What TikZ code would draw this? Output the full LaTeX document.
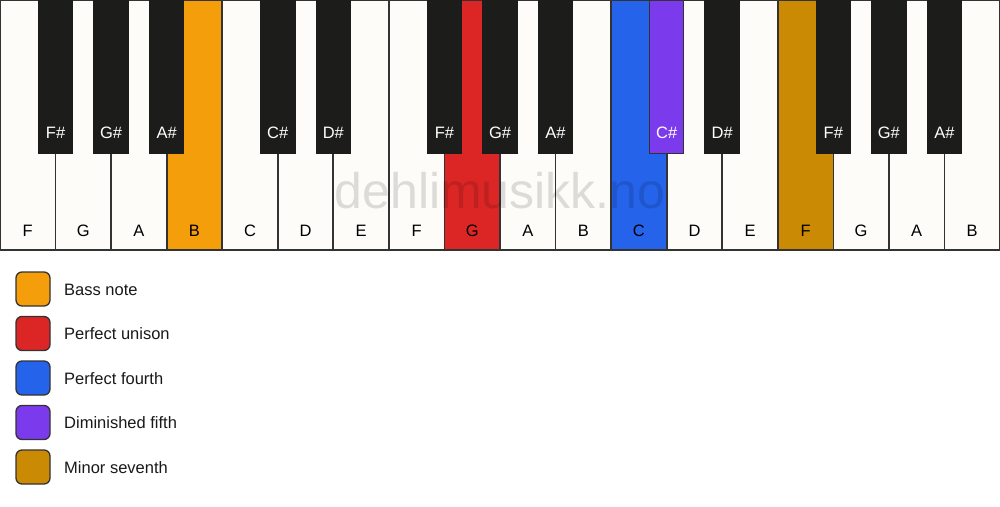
\documentclass[tikz,border=0pt]{standalone}
\usepackage{fontspec}
\setmainfont{Liberation Sans}
\definecolor{keywhite}{HTML}{FDFCF8}
\definecolor{keyblack}{HTML}{1C1C1A}
\definecolor{keyline}{HTML}{333333}
\definecolor{cbass}{HTML}{F59E0B}
\definecolor{cunison}{HTML}{DC2626}
\definecolor{cfourth}{HTML}{2563EB}
\definecolor{cdimfifth}{HTML}{7C3AED}
\definecolor{cminsev}{HTML}{CA8A04}
\begin{document}
\begin{tikzpicture}[x=1pt,y=-1pt,
  whitekey/.style={draw=keyline, line width=1.7pt, minimum width=55.556pt, minimum height=250pt, anchor=north west, inner sep=0pt, outer sep=0pt},
  blackkey/.style={draw=keyblack, line width=1pt, minimum width=34.5pt, minimum height=153pt, anchor=north, inner sep=0pt, outer sep=0pt},
  wlabel/.style={anchor=base, text=black, font=\fontsize{16.5}{19}\selectfont, inner sep=0pt},
  blabel/.style={anchor=base, text=white, font=\fontsize{16.5}{19}\selectfont, inner sep=0pt},
  swatch/.style={draw=keyline, line width=1.3pt, rounded corners=6pt, minimum width=34pt, minimum height=34pt, inner sep=0pt},
  legtext/.style={anchor=base west, text=black!90, font=\fontsize{16.5}{19}\selectfont, inner sep=0pt},
  watermark/.style={anchor=base, text=black, opacity=0.13, font=\fontsize{50}{60}\selectfont, inner sep=0pt}]
\useasboundingbox (0,0) rectangle (1000,506);
\fill[white] (0,0) rectangle (1000,506);
% white keys
\foreach \n/\c [count=\i from 0] in {F/keywhite,G/keywhite,A/keywhite,B/cbass,C/keywhite,D/keywhite,E/keywhite,F/keywhite,G/cunison,A/keywhite,B/keywhite,C/cfourth,D/keywhite,E/keywhite,F/cminsev,G/keywhite,A/keywhite,B/keywhite}{
  \node[whitekey, fill=\c] (w\i) at ({\i*55.556},0) {};
  \node[wlabel] (wl\i) at ({\i*55.556+27.778},236.5) {\n};
}
% black keys
\foreach \i/\n in {1/F\#,2/G\#,3/A\#,5/C\#,6/D\#,8/F\#,9/G\#,10/A\#,13/D\#,15/F\#,16/G\#,17/A\#}{
  \node[blackkey, fill=keyblack] (b\i) at ({\i*55.556},0) {};
  \node[blabel] (bl\i) at ({\i*55.556},138.5) {\n};
}
\node[blackkey, fill=cdimfifth, draw=keyline] (b12) at ({12*55.556},0) {};
\node[blabel] (bl12) at ({12*55.556},138.5) {C\#};
% watermark
\node[watermark] (wm) at (500,208) {dehlimusikk.no};
% legend
\foreach \t/\c [count=\k from 0] in {Bass note/cbass,Perfect unison/cunison,Perfect fourth/cfourth,Diminished fifth/cdimfifth,Minor seventh/cminsev}{
  \node[swatch, fill=\c] (s\k) at (33,{289+\k*44.5}) {};
  \node[legtext] (t\k) at (64,{295+\k*44.5}) {\t};
}
\end{tikzpicture}
\end{document}
